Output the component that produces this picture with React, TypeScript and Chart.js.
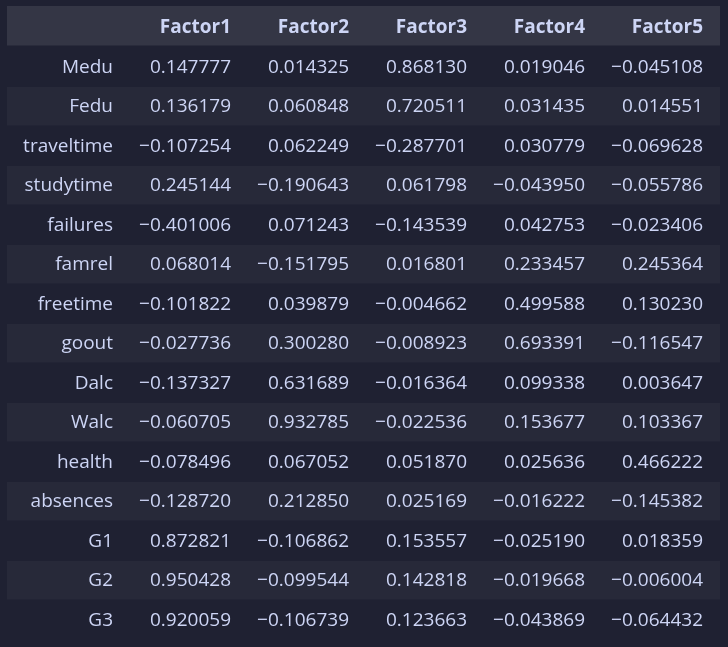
import React, { useEffect, useRef } from "react";
import { Chart, registerables } from "chart.js";
Chart.register(...registerables);

const columns = ["Factor1", "Factor2", "Factor3", "Factor4", "Factor5"];
const rowLabels = ["Medu","Fedu","traveltime","studytime","failures","famrel","freetime","goout","Dalc","Walc","health","absences","G1","G2","G3"];
const factor1 = [0.147777,0.136179,-0.107254,0.245144,-0.401006,0.068014,-0.101822,-0.027736,-0.137327,-0.060705,-0.078496,-0.128720,0.872821,0.950428,0.920059];
const factor2 = [0.014325,0.060848,0.062249,-0.190643,0.071243,-0.151795,0.039879,0.300280,0.631689,0.932785,0.067052,0.212850,-0.106862,-0.099544,-0.106739];
const factor3 = [0.868130,0.720511,-0.287701,0.061798,-0.143539,0.016801,-0.004662,-0.008923,-0.016364,-0.022536,0.051870,0.025169,0.153557,0.142818,0.123663];
const factor4 = [0.019046,0.031435,0.030779,-0.043950,0.042753,0.233457,0.499588,0.693391,0.099338,0.153677,0.025636,-0.016222,-0.025190,-0.019668,-0.043869];
const factor5 = [-0.045108,0.014551,-0.069628,-0.055786,-0.023406,0.245364,0.130230,-0.116547,0.003647,0.103367,0.466222,-0.145382,0.018359,-0.006004,-0.064432];
const series = [factor1, factor2, factor3, factor4, factor5];

const fmt = (v: number) => (v < 0 ? "\u2212" : "") + Math.abs(v).toFixed(6);

const tablePlugin = {
  id: "table",
  beforeDatasetsDraw(chart: any) {
    const ctx = chart.ctx;
    const xs = chart.scales.x;
    const ys = chart.scales.y;
    const rowH = Math.abs(ys.getPixelForValue(1) - ys.getPixelForValue(0));
    const colW = Math.abs(xs.getPixelForValue(1) - xs.getPixelForValue(0));
    const left = xs.getPixelForValue(0) - colW / 2 + 3;
    const right = xs.getPixelForValue(columns.length) + colW / 2 + 8;
    ctx.save();
    ctx.fillStyle = "#343645";
    const hy = ys.getPixelForValue(0);
    ctx.fillRect(left, hy - rowH / 2 - 2, right - left, rowH);
    for (let r = 0; r < rowLabels.length; r++) {
      const cy = ys.getPixelForValue(r + 1);
      if (r % 2 === 1) {
        ctx.fillStyle = "#272939";
        ctx.fillRect(left, cy - rowH / 2, right - left, rowH - 1);
      }
    }
    ctx.textBaseline = "middle";
    ctx.textAlign = "right";
    ctx.fillStyle = "#cdd5f5";
    ctx.font = "bold 19px 'Open Sans', 'Noto Sans', sans-serif";
    columns.forEach((c, i) => {
      ctx.fillText(c, xs.getPixelForValue(i + 1) + colW / 2 - 9, hy);
    });
    ctx.font = "19px 'Open Sans', 'Noto Sans', sans-serif";
    rowLabels.forEach((lab, r) => {
      const cy = ys.getPixelForValue(r + 1);
      ctx.fillText(lab, xs.getPixelForValue(0) + colW / 2 - 9, cy);
      series.forEach((s, i) => {
        ctx.fillText(fmt(s[r]), xs.getPixelForValue(i + 1) + colW / 2 - 9, cy);
      });
    });
    ctx.restore();
  },
};

export default function App() {
  const ref = useRef<HTMLCanvasElement>(null);
  useEffect(() => {
    document.body.style.margin = "0";
    document.body.style.background = "#1f2132";
    const chart = new Chart(ref.current!, {
      type: "scatter",
      data: { datasets: [{ data: [] }] },
      options: {
        animation: false,
        responsive: false,
        layout: { padding: { left: 4, right: 16, top: 8, bottom: 7 } },
        plugins: { legend: { display: false }, tooltip: { enabled: false } },
        scales: {
          x: { type: "category", labels: ["", ...columns], offset: true, display: false },
          y: { type: "category", labels: ["", ...rowLabels], offset: true, display: false },
        },
      },
      plugins: [tablePlugin],
    });
    return () => chart.destroy();
  }, []);
  return (
    <div style={{ width: 728, height: 647, background: "#1f2132" }}>
      <canvas ref={ref} width={728} height={647} />
    </div>
  );
}
